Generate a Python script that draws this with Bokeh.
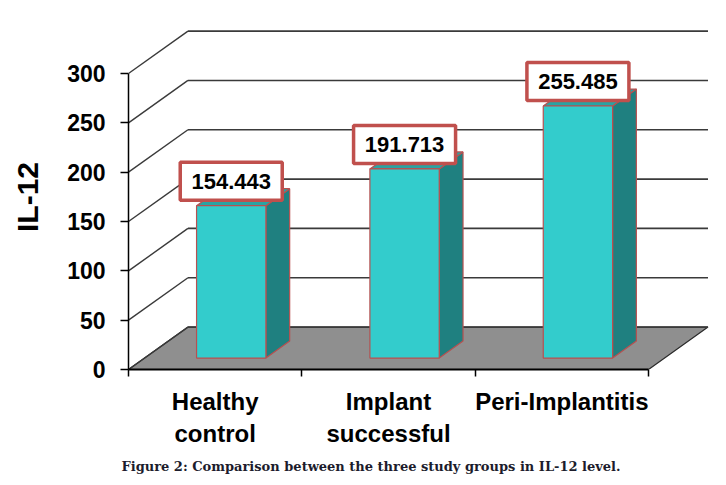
from bokeh.plotting import figure
from bokeh.models import Range1d, FixedTicker, Title, ColumnDataSource
from bokeh.core.properties import value
from bokeh.embed import file_html
from bokeh.resources import INLINE

# ---- data ----
categories = ["Healthy\ncontrol", "Implant\nsuccessful", "Peri-Implantitis"]
il12_values = [154.443, 191.713, 255.485]
value_labels = ["154.443", "191.713", "255.485"]
y_ticks = [0, 50, 100, 150, 200, 250, 300]
caption = "Figure 2: Comparison between the three study groups in IL-12 level."

# ---- 3D styling parameters ----
DX, DY = 0.343, 43.0      # depth offset of back wall (x units, y units)
F0, F1 = 0.27, 0.67       # bar depth (fraction of floor depth)
BAR_W = 0.4
PX_PER_UNIT = 296.0 / 300.0

FRONT = "#33CCCC"
SIDE = "#1F8080"
TOP = "#2AA3A3"
EDGE = "#B85050"
GRID = "#3a3a3a"

p = figure(width=720, height=480,
           x_range=Range1d(0, 3.369), y_range=Range1d(0, 349.7),
           output_backend="svg", toolbar_location=None,
           min_border_left=128, min_border_right=8,
           min_border_top=24, min_border_bottom=111)
p.xgrid.visible = False
p.ygrid.visible = False
p.outline_line_color = None
p.background_fill_color = "white"
p.border_fill_color = "white"

ncat = len(categories)

# floor
p.patch([0, ncat, ncat + DX, DX], [0, 0, DY, DY],
        fill_color="#8f8f8f", line_color="#2a2a2a", line_width=1.2)

# back wall gridlines and side diagonals
p.multi_line(xs=[[DX, ncat + DX] for _ in y_ticks],
             ys=[[v + DY, v + DY] for v in y_ticks],
             line_color=GRID, line_width=1.6)
p.multi_line(xs=[[0, DX] for _ in y_ticks],
             ys=[[v, v + DY] for v in y_ticks],
             line_color=GRID, line_width=1.4)

# bars
front_xs, front_ys, side_xs, side_ys, top_xs, top_ys = [], [], [], [], [], []
lab_x, lab_y = [], []
d = (F1 - F0) * DX
for i, v in enumerate(il12_values):
    x0 = i + 0.5 - BAR_W / 2 + F0 * DX
    x1 = x0 + BAR_W
    y0 = F0 * DY
    front_xs.append([x0, x1, x1, x0])
    front_ys.append([y0, y0, v + y0, v + y0])
    side_xs.append([x1, x1 + d, x1 + d, x1])
    side_ys.append([y0, F1 * DY, v + F1 * DY, v + y0])
    top_xs.append([x0, x1, x1 + d, x0 + d])
    top_ys.append([v + y0, v + y0, v + F1 * DY, v + F1 * DY])
    lab_x.append((x0 + x1) / 2)
    lab_y.append(v + y0 + 24.5 / PX_PER_UNIT)

p.patches(side_xs, side_ys, fill_color=SIDE, line_color=EDGE, line_width=1.2)
p.patches(top_xs, top_ys, fill_color=TOP, line_color=EDGE, line_width=1.2)
p.patches(front_xs, front_ys, fill_color=FRONT, line_color=EDGE, line_width=1.2)

src = ColumnDataSource(dict(x=lab_x, y=lab_y, t=value_labels))
p.rect(x="x", y="y", width=102, height=38, width_units="screen", height_units="screen",
       fill_color="white", line_color="#C0504D", line_width=3.5, source=src)
p.text(x="x", y="y", text="t", source=src, text_align="center", text_baseline="middle",
       text_font=value("Liberation Sans"), text_font_style="bold",
       text_font_size="22px", text_color="black")

# x axis
xa = p.xaxis[0]
xa.ticker = FixedTicker(ticks=[i + 0.5 for i in range(ncat)],
                        minor_ticks=[float(i) for i in range(ncat + 1)])
xa.major_label_overrides = {i + 0.5: c for i, c in enumerate(categories)}
xa.bounds = (0, ncat)
xa.axis_line_color = "black"
xa.axis_line_width = 2
xa.major_tick_out = 0
xa.major_tick_in = 0
xa.major_tick_line_color = None
xa.minor_tick_out = 7
xa.minor_tick_in = 0
xa.minor_tick_line_color = "black"
xa.minor_tick_line_width = 1.5
xa.major_label_text_font = "Liberation Sans"
xa.major_label_text_font_style = "bold"
xa.major_label_text_font_size = "24px"
xa.major_label_text_color = "black"
xa.major_label_standoff = 11

# y axis
ya = p.yaxis[0]
ya.ticker = FixedTicker(ticks=y_ticks, minor_ticks=[])
ya.bounds = (0, 300)
ya.axis_line_color = "black"
ya.axis_line_width = 1.5
ya.major_tick_out = 8
ya.major_tick_in = 0
ya.major_tick_line_color = "black"
ya.major_tick_line_width = 1.5
ya.major_label_text_font = "Liberation Sans"
ya.major_label_text_font_style = "bold"
ya.major_label_text_font_size = "23px"
ya.major_label_text_color = "black"
ya.major_label_standoff = 15
ya.axis_label = "IL-12"
ya.axis_label_text_font = "Liberation Sans"
ya.axis_label_text_font_style = "bold"
ya.axis_label_text_font_size = "30px"
ya.axis_label_text_color = "black"
ya.axis_label_standoff = 20

cap = Title(text=caption, align="left", offset=-7, standoff=14,
            text_font="DejaVu Serif", text_font_style="bold",
            text_font_size="13px", text_color="#1c1c2c")
p.add_layout(cap, "below")

open("out.html", "w").write(file_html(p, INLINE))
